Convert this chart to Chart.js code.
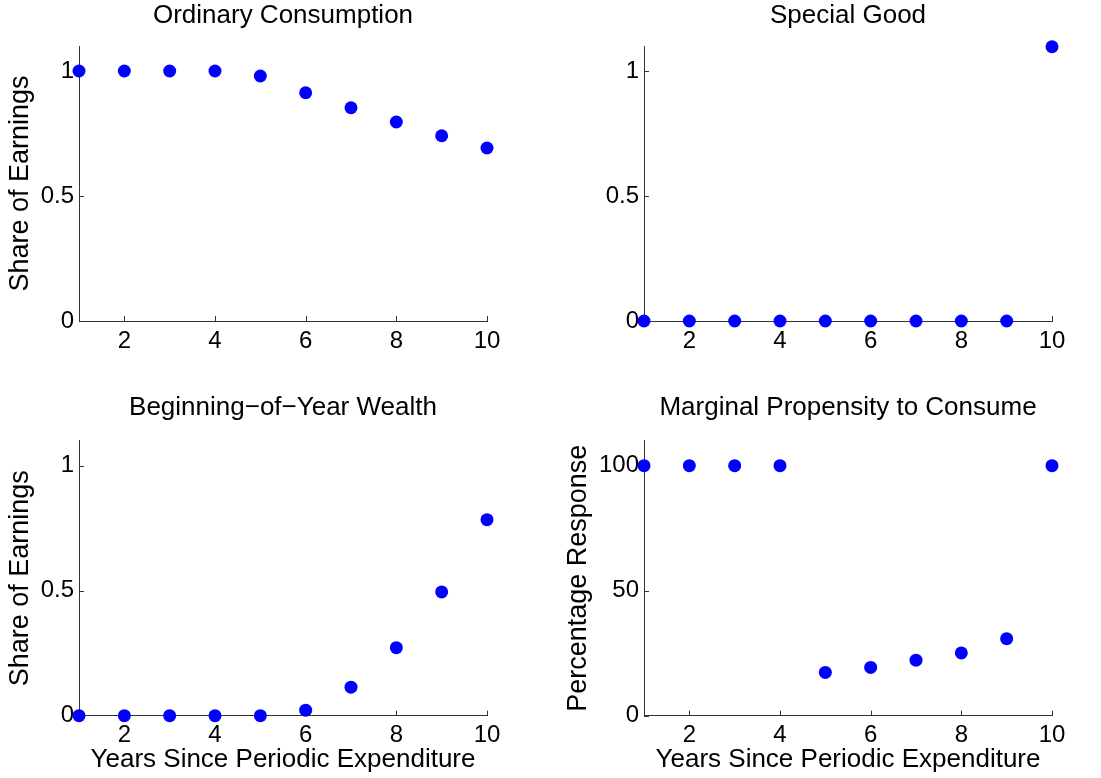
<!DOCTYPE html>
<html>
<head>
<meta charset="utf-8">
<title>Periodic Expenditure</title>
<script src="https://cdn.jsdelivr.net/npm/chart.js@4.4.1/dist/chart.umd.min.js"></script>
<style>
    body { margin: 0; background: #fff; }
    #wrap { position: relative; width: 1101px; height: 778px; }
    canvas { position: absolute; }
</style>
</head>
<body>
<div id="wrap">
    <canvas id="c1" width="550" height="389" style="left:0;top:0"></canvas>
    <canvas id="c2" width="551" height="389" style="left:550px;top:0"></canvas>
    <canvas id="c3" width="550" height="389" style="left:0;top:389px"></canvas>
    <canvas id="c4" width="551" height="389" style="left:550px;top:389px"></canvas>
</div>
<script>
// Data
const years = [1, 2, 3, 4, 5, 6, 7, 8, 9, 10];
const ordinary = [1, 1, 1, 1, 0.98, 0.913, 0.853, 0.796, 0.741, 0.692];
const special = [0, 0, 0, 0, 0, 0, 0, 0, 0, 1.097];
const wealth = [0, 0, 0, 0, 0, 0.022, 0.114, 0.272, 0.495, 0.784];
const mpc = [100, 100, 100, 100, 17.3, 19.3, 22.2, 25.1, 30.8, 100];

const xTicks = [2, 4, 6, 8, 10];
const shareTicks = [0, 0.5, 1];
const pctTicks = [0, 50, 100];

const axisColor = '#333';
const dotColor = '#0000ff';

Chart.defaults.font.family = '"Liberation Sans", Arial, Helvetica, sans-serif';
Chart.defaults.color = '#000';

// MATLAB style ticks pointing into the plot area
const inwardTicks = {
    id: 'inwardTicks',
    beforeDatasetsDraw(chart) {
        const { ctx, chartArea, scales } = chart;
        ctx.save();
        ctx.strokeStyle = axisColor;
        ctx.lineWidth = 1;
        ctx.beginPath();
        scales.x.ticks.forEach(t => {
            const px = Math.round(scales.x.getPixelForValue(t.value)) + 0.5;
            ctx.moveTo(px, chartArea.bottom);
            ctx.lineTo(px, chartArea.bottom - 5);
        });
        scales.y.ticks.forEach(t => {
            const py = Math.round(scales.y.getPixelForValue(t.value)) + 0.5;
            ctx.moveTo(chartArea.left, py);
            ctx.lineTo(chartArea.left + 5, py);
        });
        ctx.stroke();
        ctx.restore();
    }
};

function makePanel(id, cfg) {
    const points = years.map((yr, i) => ({ x: yr, y: cfg.values[i] }));
    return new Chart(document.getElementById(id), {
        type: 'scatter',
        data: {
            datasets: [{
                data: points,
                backgroundColor: dotColor,
                borderWidth: 0,
                pointRadius: 6.5,
                pointHoverRadius: 6.5,
                clip: false
            }]
        },
        options: {
            responsive: false,
            animation: false,
            events: [],
            layout: { padding: { left: 0, right: cfg.padRight, top: 0, bottom: 0 } },
            plugins: {
                legend: { display: false },
                tooltip: { enabled: false },
                title: {
                    display: true,
                    text: cfg.title,
                    fullSize: false,
                    font: { size: 26, weight: 'normal', lineHeight: 1.2 },
                    padding: cfg.titlePad
                }
            },
            scales: {
                x: {
                    type: 'linear',
                    min: 1,
                    max: 10,
                    afterBuildTicks: s => { s.ticks = xTicks.map(v => ({ value: v })); },
                    afterFit: s => { s.height = cfg.xHeight; },
                    grid: { drawOnChartArea: false, drawTicks: false },
                    border: { display: true, color: axisColor, width: 1 },
                    ticks: {
                        padding: 5.6,
                        maxRotation: 0,
                        font: { size: 24, lineHeight: 1.2 },
                        callback: v => String(v)
                    },
                    title: {
                        display: !!cfg.xTitle,
                        text: cfg.xTitle || '',
                        font: { size: 26, lineHeight: 1.2 },
                        padding: { top: 0, bottom: 2.4 }
                    }
                },
                y: {
                    type: 'linear',
                    min: 0,
                    max: cfg.yMax,
                    afterBuildTicks: s => { s.ticks = cfg.yTicks.map(v => ({ value: v })); },
                    afterFit: s => { s.width = cfg.yWidth; },
                    grid: { drawOnChartArea: false, drawTicks: false },
                    border: { display: true, color: axisColor, width: 1 },
                    ticks: {
                        padding: 5,
                        font: { size: 24, lineHeight: 1.2 },
                        callback: v => String(v)
                    },
                    title: {
                        display: true,
                        text: cfg.yTitle,
                        font: { size: 27, lineHeight: 1.2 },
                        padding: { top: cfg.yTitlePad, bottom: 0 }
                    }
                }
            }
        },
        plugins: [inwardTicks]
    });
}

makePanel('c1', {
    title: 'Ordinary Consumption', values: ordinary, yMax: 1.1, yTicks: shareTicks,
    yTitle: 'Share of Earnings', yTitlePad: 4.8, yWidth: 79, padRight: 63, xHeight: 68,
    titlePad: { top: 0, bottom: 14.8 }
});
makePanel('c2', {
    title: 'Special Good', values: special, yMax: 1.1, yTicks: shareTicks,
    yTitle: '', yTitlePad: 0, yWidth: 94, padRight: 49, xHeight: 68,
    titlePad: { top: 0, bottom: 14.8 }
});
makePanel('c3', {
    title: 'Beginning\u2212of\u2212Year Wealth', values: wealth, yMax: 1.1, yTicks: shareTicks,
    yTitle: 'Share of Earnings', yTitlePad: 4.8, yWidth: 79, padRight: 63, xHeight: 62.3,
    xTitle: 'Years Since Periodic Expenditure',
    titlePad: { top: 3.4, bottom: 17.1 }
});
makePanel('c4', {
    title: 'Marginal Propensity to Consume', values: mpc, yMax: 110, yTicks: pctTicks,
    yTitle: 'Percentage Response', yTitlePad: 12.8, yWidth: 94, padRight: 49, xHeight: 62.3,
    xTitle: 'Years Since Periodic Expenditure',
    titlePad: { top: 3.4, bottom: 17.1 }
});
</script>
</body>
</html>
